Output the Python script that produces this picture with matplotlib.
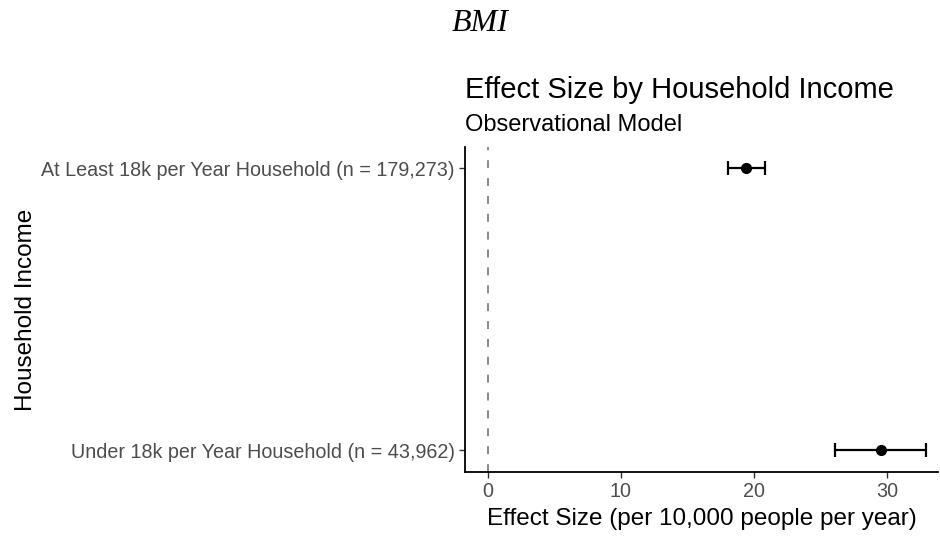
import matplotlib.pyplot as plt

# datos
groups = ['Under 18k per Year Household (n = 43,962)',
          'At Least 18k per Year Household (n = 179,273)']
estimate = [29.5, 19.4]
ci_low = [26.05, 18.07]
ci_high = [32.9, 20.8]
x_ticks = [0, 10, 20, 30]


def main():
    plt.rcParams['font.family'] = ['Liberation Sans', 'DejaVu Sans']
    fig = plt.figure(figsize=(9.4, 5.36), dpi=100)
    ax = fig.add_axes([0.4947, 0.1194, 0.503, 0.6063])

    pos = list(range(len(groups)))
    err = [[e - lo for e, lo in zip(estimate, ci_low)],
           [hi - e for e, hi in zip(estimate, ci_high)]]
    ax.axvline(0, color='#808080', linestyle=(0, (4.4, 5.5)), linewidth=1.3, zorder=1)
    ax.errorbar(estimate, pos, xerr=err, fmt='o', color='black', ecolor='black',
                markersize=7, capsize=5, elinewidth=1.6, capthick=1.6, zorder=3)

    ax.set_xlim(-1.7, 33.8)
    ax.set_ylim(-0.078, 1.075)
    ax.set_xticks(x_ticks)
    ax.set_yticks(pos)
    ax.set_yticklabels(groups)
    ax.tick_params(axis='both', labelsize=14.2, labelcolor='#4D4D4D',
                   color='#333333', length=4, width=1)

    for side in ['top', 'right']:
        ax.spines[side].set_visible(False)
    for side in ['left', 'bottom']:
        ax.spines[side].set_linewidth(1.3)

    ax.set_xlabel('Effect Size (per 10,000 people per year)', fontsize=17.5, labelpad=5)
    ax.set_ylabel('Household Income', fontsize=17.5)
    ax.yaxis.set_label_coords(-0.905, 0.5)

    fig.text(0.4947, 0.817, 'Effect Size by Household Income', fontsize=21, ha='left')
    fig.text(0.4947, 0.755, 'Observational Model', fontsize=17, ha='left')
    fig.text(0.511, 0.942, 'BMI', fontsize=23, ha='center', style='italic',
             family=['Liberation Serif', 'DejaVu Serif'])

    fig.savefig('out.png', dpi=100)


if __name__ == '__main__':
    main()
